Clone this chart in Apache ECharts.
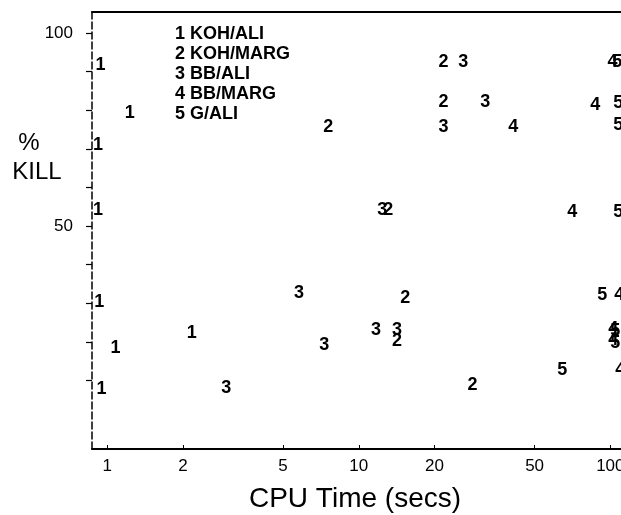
<!DOCTYPE html>
<html>
<head>
<meta charset="utf-8">
<script src="https://cdn.jsdelivr.net/npm/echarts@6/dist/echarts.min.js"></script>
<style>
  html, body { margin: 0; padding: 0; background: #fff; }
  #chart { width: 621px; height: 515px; }
</style>
</head>
<body>
<div id="chart"></div>
<script>
// ---- data ----
const cpuTicks = [1, 2, 5, 10, 20, 50, 100];
const killTicks = [10, 20, 30, 40, 50, 60, 70, 80, 90, 100];
const killLabels = [50, 100];
const seriesNames = ['KOH/ALI', 'KOH/MARG', 'BB/ALI', 'BB/MARG', 'G/ALI'];

const kohAliTime = [0.94, 1.23, 0.92, 0.92, 0.93, 2.17, 1.08, 0.95];
const kohAliKill = [91.7, 79.3, 71.0, 54.1, 30.3, 22.3, 18.4, 7.8];

const kohMargTime = [21.7, 21.7, 7.56, 13.1, 15.3, 14.2, 28.3];
const kohMargKill = [92.5, 82.1, 75.6, 54.1, 31.3, 20.2, 8.8];

const bbAliTime = [26.0, 31.8, 21.7, 12.4, 5.79, 11.7, 14.2, 7.29, 2.97];
const bbAliKill = [92.5, 82.1, 75.6, 54.1, 32.6, 23.1, 23.1, 19.2, 8.0];

const bbMargTime = [101.9, 87.2, 41.1, 70.6, 108.6, 102.8, 102.8, 109.6];
const bbMargKill = [92.5, 81.3, 75.6, 53.6, 32.1, 23.3, 20.5, 12.7];

const gAliTime = [106.6, 107.6, 107.6, 107.6, 92.9, 104.7, 104.7, 64.4];
const gAliKill = [92.5, 81.9, 76.2, 53.6, 32.1, 22.8, 19.7, 12.7];

const times = [kohAliTime, kohMargTime, bbAliTime, bbMargTime, gAliTime];
const kills = [kohAliKill, kohMargKill, bbAliKill, bbMargKill, gAliKill];

// ---- chart ----
const FONT = 'Liberation Sans, Arial, Helvetica, sans-serif';
const chart = echarts.init(document.getElementById('chart'), null, { renderer: 'canvas' });

const series = seriesNames.map((name, i) => ({
  name: name,
  type: 'scatter',
  xAxisIndex: 0,
  yAxisIndex: 0,
  symbol: 'circle',
  symbolSize: 1,
  itemStyle: { color: '#fff', opacity: 1 },
  silent: true,
  clip: true,
  label: {
    show: true,
    position: 'inside',
    formatter: String(i + 1),
    color: '#000',
    opacity: 1,
    textBorderWidth: 0,
    fontFamily: FONT,
    fontSize: 18,
    fontWeight: 'bold'
  },
  labelLayout: { hideOverlap: false },
  data: times[i].map((t, k) => [t, kills[i][k]])
}));

chart.setOption({
  animation: false,
  backgroundColor: '#fff',
  grid: { left: 92, top: 12, width: 547, height: 437, outerBoundsMode: 'none', containLabel: false, show: false },
  legend: {
    show: true,
    orient: 'vertical',
    left: 165,
    top: 20,
    itemWidth: 0,
    itemHeight: 0,
    itemGap: 2,
    icon: 'rect',
    selectedMode: false,
    formatter: (name) => (seriesNames.indexOf(name) + 1) + ' ' + name,
    textStyle: { color: '#000', fontFamily: FONT, fontSize: 18, fontWeight: 'bold', lineHeight: 18 },
    data: seriesNames
  },
  xAxis: [
    {
      type: 'log',
      logBase: 10,
      min: 0.87,
      max: 130,
      position: 'bottom',
      axisLine: { show: true, onZero: false, lineStyle: { color: '#000', width: 2 } },
      axisTick: { show: true, inside: true, length: 4, customValues: cpuTicks, lineStyle: { color: '#000', width: 1 } },
      axisLabel: {
        show: true, customValues: cpuTicks, margin: 9, color: '#000',
        fontFamily: FONT, fontSize: 17,
        formatter: (v) => String(Math.round(v))
      },
      splitLine: { show: false },
      minorTick: { show: false },
      minorSplitLine: { show: false }
    },
    {
      type: 'value',
      min: 0,
      max: 1,
      position: 'top',
      axisLine: { show: true, onZero: false, lineStyle: { color: '#000', width: 2 } },
      axisTick: { show: false },
      axisLabel: { show: false },
      splitLine: { show: false }
    }
  ],
  yAxis: {
    type: 'value',
    min: -7.77,
    max: 105.44,
    axisLine: { show: true, onZero: false, lineStyle: { color: '#000', width: 1.5, type: [7, 3] } },
    axisTick: { show: true, inside: false, length: 6, customValues: killTicks, lineStyle: { color: '#000', width: 1.2 } },
    axisLabel: {
      show: true, customValues: killLabels, margin: 19, color: '#000',
      fontFamily: FONT, fontSize: 17, padding: [0, 0, 8, 0]
    },
    splitLine: { show: false }
  },
  graphic: [
    { type: 'text', x: 29, y: 143, style: { text: '%', fill: '#000', font: '24px ' + FONT, textAlign: 'center', textVerticalAlign: 'middle' } },
    { type: 'text', x: 37, y: 172, style: { text: 'KILL', fill: '#000', font: '24px ' + FONT, textAlign: 'center', textVerticalAlign: 'middle' } },
    { type: 'text', x: 355, y: 499, style: { text: 'CPU Time (secs)', fill: '#000', font: '28px ' + FONT, textAlign: 'center', textVerticalAlign: 'middle' } }
  ],
  series: series
});
</script>
</body>
</html>
